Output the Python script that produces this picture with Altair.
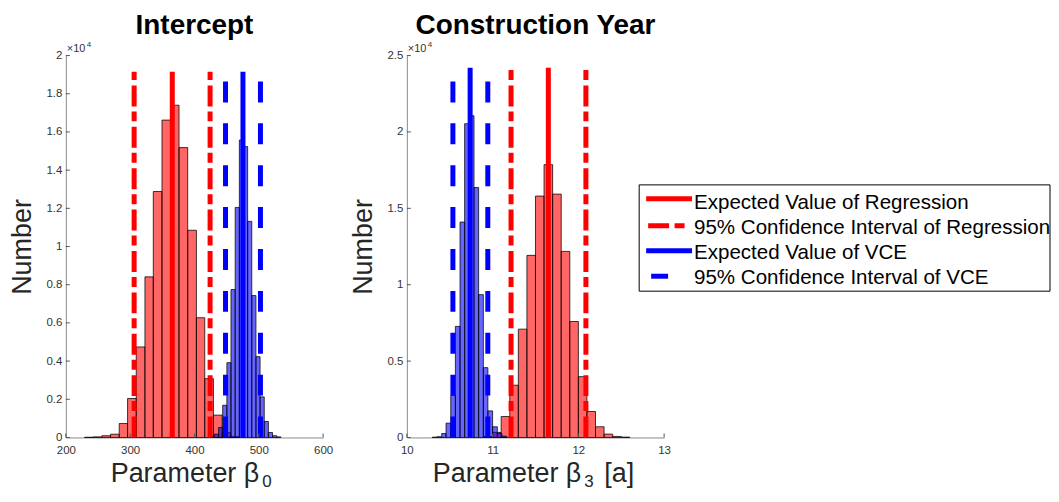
import altair as alt
import pandas as pd

FONT = "Liberation Sans"
AX = "#262626"

# ---------------- Left panel: Intercept ----------------
L_red_edges = [229, 242.5, 256, 269.5, 283, 296, 309.5, 323, 336, 349.5, 363, 376,
               389.5, 403, 416, 429.5, 443, 456, 470]
L_red_counts = [10, 30, 90, 170, 730, 2040, 4740, 8410, 12880, 16620, 17400, 15180,
                10850, 6270, 3080, 1170, 250, 40]
L_blue_edges = [424.5, 431.0, 437.5, 443.9, 450.4, 456.8, 463.3, 469.8, 476.2, 482.7,
                489.1, 495.6, 502.0, 508.5, 514.9, 521.4, 527.8, 534.3]
L_blue_counts = [40, 172, 522, 1687, 3916, 7744, 12047, 15577, 15232, 11316, 7431,
                 4230, 2125, 836, 261, 89, 30]
L_red_mean = [365.5]
L_red_ci = [306.2, 424.3]
L_blue_mean = [475.4]
L_blue_ci = [448.3, 502.6]
L_line_top = 19150
L_xticks = [200, 300, 400, 500, 600]
L_yticks = [0, 2000, 4000, 6000, 8000, 10000, 12000, 14000, 16000, 18000, 20000]

# ---------------- Right panel: Construction Year ----------------
R_red_edges = [10.9, 11.0, 11.1, 11.2, 11.3, 11.4, 11.5, 11.6, 11.7, 11.8, 11.9, 12.0,
               12.1, 12.2, 12.3, 12.4, 12.5, 12.6]
R_red_counts = [60, 330, 1370, 3420, 7090, 11920, 15800, 17860, 15930, 12180, 7590,
                3980, 1700, 700, 220, 65, 20]
R_blue_edges = [10.295, 10.349, 10.407, 10.457, 10.512, 10.566, 10.620, 10.674, 10.729,
                10.783, 10.837, 10.892, 10.945, 11.0, 11.055, 11.108, 11.163]
R_blue_counts = [15, 50, 260, 935, 2760, 7270, 14100, 20540, 21060, 16360, 9350, 4570,
                 1740, 700, 260, 85]
R_red_mean = [11.650]
R_red_ci = [11.215, 12.088]
R_blue_mean = [10.738]
R_blue_ci = [10.537, 10.944]
R_line_top = 24200
R_xticks = [10, 11, 12, 13]
R_yticks = [0, 5000, 10000, 15000, 20000, 25000]

LEGEND_LABELS = ["Expected Value of Regression", "95% Confidence Interval of Regression",
                 "Expected Value of VCE", "95% Confidence Interval of VCE"]

W, H = 258, 383
RED_DASH = [21, 5.5, 10, 5]
BLUE_DASH = [21, 21]


def hist_df(edges, counts):
    return pd.DataFrame({"lo": edges[:-1], "hi": edges[1:], "n": counts})


def lines_df(xs, top):
    return pd.DataFrame({"x": xs, "y0": [0] * len(xs), "top": [top] * len(xs)})


def panel(title, xdom, xticks, ydom, yticks, xtitle_parts, red_e, red_n, blue_e, blue_n,
          red_mean, red_ci, blue_mean, blue_ci, top, legend=False):
    xs = alt.Scale(domain=xdom, nice=False, zero=False)
    ys = alt.Scale(domain=ydom, nice=False, zero=True)
    xaxis = alt.Axis(values=xticks, ticks=False, grid=False, domainColor="#8a8a8a",
                     domainWidth=1, labelColor="#333333", labelFont=FONT, labelFontSize=11.5,
                     labelPadding=7, labelFlush=False, title=None)
    yaxis = alt.Axis(values=yticks, ticks=False, grid=False, domainColor="#8a8a8a",
                     domainWidth=1, labelColor="#333333", labelFont=FONT, labelFontSize=11.5,
                     labelPadding=4, labelFlush=False,
                     labelExpr="format(datum.value/10000, '~g')",
                     title="Number", titleFont=FONT, titleFontSize=27,
                     titleFontWeight="normal", titleColor=AX, titlePadding=9)

    def xenc(f):
        return alt.X(f, type="quantitative", scale=xs, axis=xaxis)

    def yenc(f):
        return alt.Y(f, type="quantitative", scale=ys, axis=yaxis)

    red_bars = alt.Chart(hist_df(red_e, red_n)).mark_rect(
        fill="#ff0000", fillOpacity=0.6, stroke="black", strokeOpacity=0.75, strokeWidth=1
    ).encode(x=xenc("lo"), x2="hi", y=yenc("n"), y2=alt.datum(0))
    blue_bars = alt.Chart(hist_df(blue_e, blue_n)).mark_rect(
        fill="#0000ff", fillOpacity=0.6, stroke="black", strokeOpacity=0.75, strokeWidth=1
    ).encode(x=xenc("lo"), x2="hi", y=yenc("n"), y2=alt.datum(0))

    def rule(xv, color, dash=None):
        kw = dict(color=color, strokeWidth=5)
        if dash:
            kw["strokeDash"] = dash
        return alt.Chart(lines_df(xv, top)).mark_rule(**kw).encode(
            x=xenc("x"), y=yenc("y0"), y2="top")

    layers = [red_bars, blue_bars,
              rule(red_mean, "#ff0000"), rule(red_ci, "#ff0000", RED_DASH),
              rule(blue_mean, "#0000ff"), rule(blue_ci, "#0000ff", BLUE_DASH)]

    # inward ticks
    layers.append(alt.Chart(pd.DataFrame({"v": xticks})).mark_tick(
        orient="vertical", size=4, thickness=1, color="#555555", opacity=1
    ).encode(x=xenc("v"), y=alt.value(H - 2)))
    layers.append(alt.Chart(pd.DataFrame({"v": yticks})).mark_tick(
        orient="horizontal", size=4, thickness=1, color="#555555", opacity=1
    ).encode(y=yenc("v"), x=alt.value(2)))

    one = pd.DataFrame({"a": [0]})
    # x10^4 exponent label
    layers.append(alt.Chart(one).mark_text(
        text="×10", font=FONT, fontSize=11, color="#333333", align="left",
        baseline="alphabetic").encode(x=alt.value(1), y=alt.value(-4)))
    layers.append(alt.Chart(one).mark_text(
        text="4", font=FONT, fontSize=8, color="#333333", align="left",
        baseline="alphabetic").encode(x=alt.value(21), y=alt.value(-9)))

    # x-axis title with subscript
    for txt, px, py, fs in xtitle_parts:
        layers.append(alt.Chart(one).mark_text(
            text=txt, font=FONT, fontSize=fs, color=AX, align="left",
            baseline="alphabetic").encode(x=alt.value(px), y=alt.value(py)))

    if legend:
        layers.append(alt.Chart(one).mark_rect(
            fill="white", stroke="black", strokeWidth=1).encode(
            x=alt.value(233), x2=alt.value(645), y=alt.value(129.7), y2=alt.value(236.3)))
        specs = [
            ("#ff0000", None, 240, 286, 143.7, 153.7),
            ("#ff0000", RED_DASH, 242, 279, 170.7, 178.5),
            ("#0000ff", None, 240, 286, 195.7, 203.7),
            ("#0000ff", None, 245, 262, 221.3, 229.0),
        ]
        for lab, (col, dash, a, b, ly, ty) in zip(LEGEND_LABELS, specs):
            kw = dict(color=col, strokeWidth=5)
            if dash:
                kw["strokeDash"] = dash
            layers.append(alt.Chart(one).mark_rule(**kw).encode(
                x=alt.value(a), x2=alt.value(b), y=alt.value(ly)))
            layers.append(alt.Chart(one).mark_text(
                text=lab, font=FONT, fontSize=20.6, color="black", align="left",
                baseline="alphabetic").encode(x=alt.value(288), y=alt.value(ty)))

    return alt.layer(*layers).properties(
        width=W, height=H,
        title=alt.TitleParams(title, font=FONT, fontSize=28, fontWeight="bold",
                              color="black", anchor="middle", frame="group", offset=1))


left = panel("Intercept", [200, 600], L_xticks, [0, 20000], L_yticks,
             [("Parameter β", 45, 428, 27), ("0", 197, 433, 17)],
             L_red_edges, L_red_counts, L_blue_edges, L_blue_counts,
             L_red_mean, L_red_ci, L_blue_mean, L_blue_ci, L_line_top)
right = panel("Construction Year", [10, 13], R_xticks, [0, 25000], R_yticks,
              [("Parameter β", 26, 428, 27), ("3", 178, 433, 17), ("[a]", 198, 428, 27)],
              R_red_edges, R_red_counts, R_blue_edges, R_blue_counts,
              R_red_mean, R_red_ci, R_blue_mean, R_blue_ci, R_line_top, legend=True)

chart = alt.hconcat(left, right, spacing=17).properties(
    padding={"left": 1, "top": 3, "right": 0, "bottom": 0},
    background="white"
).configure_view(stroke=None)

chart.save("out.html", embed_options={"renderer": "svg", "actions": False})
